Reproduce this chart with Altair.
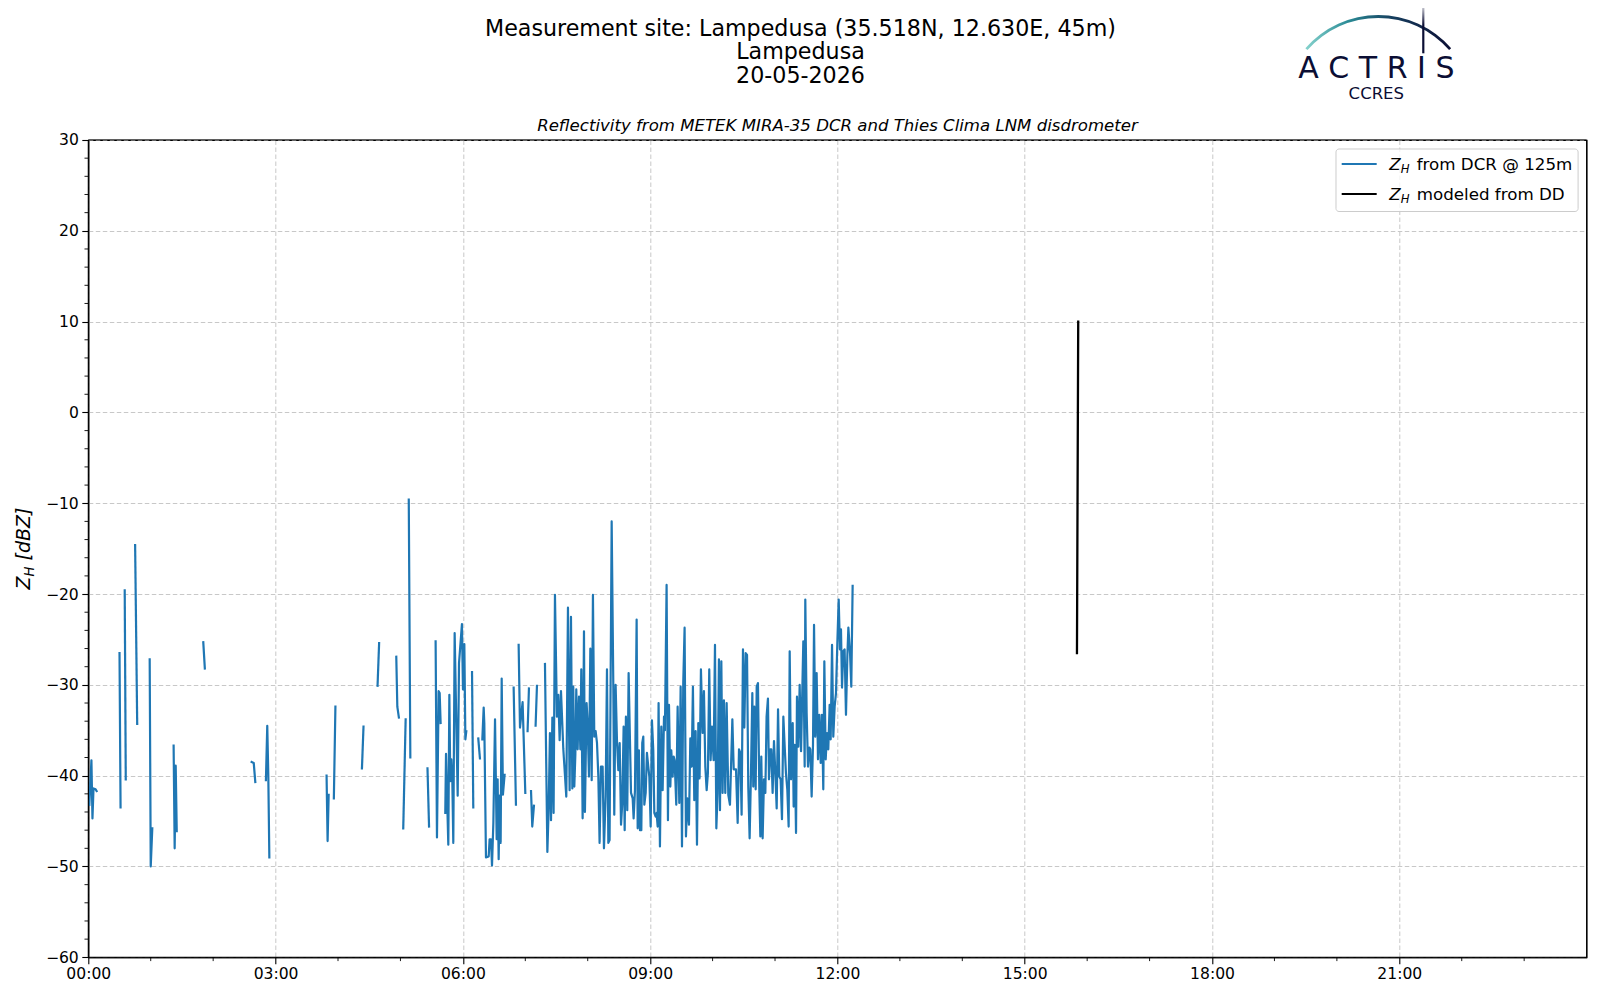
import altair as alt
import pandas as pd

# ---------------- data ----------------
# DCR reflectivity at 125 m: minutes after 00:00, None marks a data gap
dcr_minutes = [
    1, 3, 4, 5, 7, 8, None,
    30, 31, None,
    35, 36, None,
    45, 47, None,
    59, 60, 61.5, None,
    82, 83, 84, 85, None,
    110.5, 112, None,
    157, 159, 160.5, None,
    170.7, 172, 173, 174, None,
    229, 230, 231, None,
    236, 237.5, None,
    263, 264.5, None,
    278, 279.5, None,
    296, 297, 298.5, None,
    302.7, 305, None,
    308, 309.5, None,
    326, 327.5, None,
    333.8, 335.1, 336.7, 337.7, 338.6, None,
    343.1, 343.8, 346.0, 347.0, 347.9, 348.9, 349.9, 350.8, 352.1, 355.0, 356.3,
    359.1, 360.1, 361.4, 362.4, 363.3, None,
    368.8, 370.0, None,
    374.8, 376.4, None,
    378.7, 380.0, 380.6, 382.2, 384.8, 385.7, 387.0, 388.0, 389.3, 390.9, 392.5,
    393.4, 394.4, 395.3, 396.3, 397.3, 398.5, 400.1, None,
    408.8, 411.0, None,
    413.6, 414.9, 417.4, 420.0, None,
    422.2, 423.5, None,
    425.5, 426.7, 428.3, None,
    429.9, 431.2, None,
    438.9, 441.2, 442.4, 443.7, 444.7, 446.0, 447.2, 448.5, 450.4, 451.7, 453.0,
    454.3, 456.5, 459.4, 461.0, 462.6, 463.9, 465.2, 466.1, 467.1, 468.1, 469.0,
    470.3, 471.6, 472.9, 473.8, 475.1, 476.4, 477.3, 478.9, 479.9, 481.2, 482.5,
    483.8, 485.0, 486.3, 487.6, 488.9, 490.2, 491.4, 492.7, 494.3, 495.6, 497.2,
    498.5, 499.8, 501.0, 503.0, 504.6, 505.5, 506.8, 508.1, 509.4, 510.7, 512.0,
    513.2, 514.5, 515.5, 516.7, 518.0, 519.3, 521.6, 523.2, 524.1, 525.4, 527.0,
    528.0, 529.2, 530.2, 531.5, 532.4, 533.4, 534.4, 535.7, 536.9, 538.2, 539.2,
    540.5, 541.7, 543.0, 544.0, 545.3, 546.2, 547.2, 548.1, 549.4, 550.7, 552.0,
    553.3, 554.2, 555.8, 557.1, 558.1, 559.4, 560.3, 561.6, 562.6, 563.5, 565.1,
    566.4, 568.0, 569.3, 570.6, 571.8, 573.1, 574.4, 575.7, 577.3, 578.6, 579.9,
    581.1, 582.4, 583.7, 585.0, 586.3, 587.5, 588.8, 590.4, 591.7, 593.0, 594.3,
    595.5, 596.8, 598.1, 599.4, 601.0, 602.3, 603.6, 604.8, 606.1, 607.1, 608.4,
    609.6, 610.9, 612.2, 613.5, 615.1, 616.7, 619.0, 620.3, 622.5, 624.1, 625.4,
    626.7, 627.9, 629.2, 630.5, 631.8, 633.1, 634.3, 635.6, 636.9, 638.2, 639.1,
    640.1, 641.4, 642.4, 643.6, 644.9, 645.9, 646.8, 648.1, 649.4, 650.7, 651.9,
    653.2, 654.2, 655.5, 656.4, 657.7, 659.0, 660.3, 661.6, 662.9, 664.1, 665.4,
    666.7, 668.0, 669.3, 670.5, 671.8, 673.1, 674.1, 675.4, 677.0, 677.9, 678.9,
    680.2, 681.1, 682.4, 683.7, 685.0, 685.9, 687.2, 688.5, 689.1, 690.4, 691.7,
    693.0, 693.9, 695.2, 696.5, 697.5, 698.7, 700.0, 701.3, 702.6, 703.9, 705.1,
    706.4, 707.4, 708.7, 710.0, 711.2, 712.5, 713.5, 714.8, 716.0, 717.3, 718.6,
    719.9, 721.2, 722.4, 723.4, 724.4, 725.6, 726.9, 728.2, 729.5, 730.5, 732.1,
    733.3, 734.6,
]
dcr_dbz = [
    -43.2, -38.3, -44.7, -41.4, -41.5, -41.7, None,
    -26.5, -43.5, None,
    -19.6, -40.4, None,
    -14.6, -34.3, None,
    -27.2, -50.0, -45.8, None,
    -36.7, -48.0, -38.9, -46.1, None,
    -25.3, -28.2, None,
    -38.5, -38.6, -40.7, None,
    -40.5, -34.5, -40.0, -49.0, None,
    -40.0, -47.2, -42.1, None,
    -42.5, -32.4, None,
    -39.2, -34.6, None,
    -30.1, -25.4, None,
    -26.9, -32.4, -33.6, None,
    -45.8, -33.8, None,
    -9.6, -38.0, None,
    -39.2, -45.6, None,
    -25.2, -46.8, -30.7, -30.9, -34.2, None,
    -44.1, -37.6, -47.6, -31.1, -40.6, -38.2, -40.8, -47.4, -24.3, -42.2, -27.6,
    -23.3, -30.5, -25.5, -36.0, -35.1, None,
    -28.6, -43.5, None,
    -35.9, -38.1, None,
    -36.0, -32.5, -34.2, -49.0, -48.9, -47.0, -47.0, -49.9, -45.2, -33.8, -47.0,
    -40.4, -49.2, -42.2, -47.4, -29.3, -42.1, -39.9, None,
    -30.3, -43.2, None,
    -25.6, -34.7, -31.9, -41.9, None,
    -35.1, -30.4, None,
    -41.7, -45.6, -43.3, None,
    -34.5, -30.1, None,
    -27.7, -48.4, -43.8, -35.3, -44.9, -33.6, -44.1, -20.1, -33.5, -31.1, -36.1,
    -30.7, -37.0, -42.3, -21.5, -41.6, -22.5, -41.4, -30.2, -41.2, -37.7, -30.5,
    -37.1, -31.3, -37.1, -28.3, -44.7, -24.1, -44.0, -32.0, -34.2, -40.1, -26.0,
    -40.5, -20.1, -35.7, -35.1, -36.4, -40.1, -47.4, -39.0, -39.0, -48.0, -42.3,
    -28.3, -47.4, -47.1, -12.0, -30.2, -44.3, -30.0, -36.1, -39.4, -36.4, -45.4,
    -43.0, -34.6, -46.0, -33.5, -43.8, -28.7, -41.9, -42.5, -44.7, -41.6, -22.8,
    -45.8, -37.2, -46.0, -46.0, -36.4, -35.7, -43.2, -41.9, -37.5, -39.0, -40.1,
    -45.6, -33.9, -37.2, -44.1, -44.5, -44.1, -45.6, -32.0, -47.8, -34.6, -41.6,
    -33.5, -35.0, -19.0, -44.9, -32.2, -41.2, -37.2, -40.1, -37.9, -38.3, -43.2,
    -32.4, -43.0, -30.2, -47.8, -29.8, -23.7, -46.7, -42.5, -45.4, -35.9, -39.0,
    -30.2, -42.7, -35.1, -47.6, -34.2, -40.3, -28.3, -35.3, -30.7, -39.0, -41.6,
    -39.7, -28.3, -38.3, -34.6, -38.3, -25.6, -45.8, -41.9, -27.2, -43.8, -27.4,
    -41.9, -31.7, -41.9, -32.0, -42.1, -43.2, -33.8, -39.3, -39.3, -45.2, -37.1,
    -37.5, -44.3, -26.1, -34.7, -26.5, -26.7, -41.2, -46.9, -39.7, -30.9, -41.2,
    -32.4, -41.5, -30.2, -29.8, -41.5, -46.7, -37.9, -46.9, -40.4, -41.9, -33.5,
    -31.5, -40.4, -37.1, -37.1, -41.9, -36.2, -39.7, -43.6, -32.7, -40.1, -40.4,
    -44.8, -33.5, -36.8, -39.7, -41.5, -45.6, -26.3, -40.4, -34.2, -43.4, -36.6,
    -46.3, -31.3, -36.8, -30.0, -37.3, -32.4, -25.2, -39.0, -20.6, -33.1, -39.0,
    -36.9, -37.1, -42.3, -36.6, -23.4, -35.7, -28.7, -38.2, -33.3, -38.6, -33.3,
    -41.5, -27.4, -38.2, -35.3, -37.1, -32.2, -36.0, -25.6, -35.7, -32.4, -30.9,
    -25.4, -20.6, -26.1, -23.9, -30.3, -26.3, -26.1, -33.3, -26.9, -23.7, -26.5,
    -30.2, -19.1,
]

# Z_H modeled from the disdrometer
dd_minutes = [950.2, 951.4]
dd_dbz = [-26.5, 10.0]

x_major_hours = [0, 3, 6, 9, 12, 15, 18, 21]
x_minor_hours = [1, 2, 4, 5, 7, 8, 10, 11, 13, 14, 16, 17, 19, 20, 22, 23]
y_major = [-60, -50, -40, -30, -20, -10, 0, 10, 20, 30]
y_minor = [-58, -56, -54, -52, -48, -46, -44, -42, -38, -36, -34, -32, -28, -26,
           -24, -22, -18, -16, -14, -12, -8, -6, -4, -2, 2, 4, 6, 8, 12, 14, 16,
           18, 22, 24, 26, 28]

title_lines = ["Measurement site: Lampedusa (35.518N, 12.630E, 45m)", "Lampedusa", "20-05-2026"]
subtitle = "Reflectivity from METEK MIRA-35 DCR and Thies Clima LNM disdrometer"
legend_rest = ["from DCR @ 125m", "modeled from DD"]
legend_colors = ["#1f77b4", "#000000"]

# ---------------- build tables ----------------
rows = []
seg = 0
for m, v in zip(dcr_minutes, dcr_dbz):
    if m is None:
        seg += 1
        continue
    rows.append({"h": m / 60.0, "v": v, "seg": seg})
dcr_df = pd.DataFrame(rows)
dd_df = pd.DataFrame({"h": [m / 60.0 for m in dd_minutes], "v": dd_dbz})
one = pd.DataFrame({"a": [0]})

W, H = 1498.3, 817.3
FONT = "DejaVu Sans"
NAVY = "#0b0e34"

xscale = alt.Scale(domain=[0, 24], nice=False, zero=False)
yscale = alt.Scale(domain=[-60, 30], nice=False, zero=False)

xaxis = alt.Axis(values=x_major_hours, title=None, grid=True, labelFlush=False,
                 labelExpr="(datum.value < 10 ? '0' : '') + datum.value + ':00'")
yaxis = alt.Axis(values=y_major, title=None, grid=True, labelFlush=False)

blue = alt.Chart(dcr_df).mark_line(
    color="#1f77b4", strokeWidth=2.2, strokeCap="square", strokeJoin="round"
).encode(
    x=alt.X("h:Q", scale=xscale, axis=xaxis),
    y=alt.Y("v:Q", scale=yscale, axis=yaxis),
    detail="seg:N",
)

black = alt.Chart(dd_df).mark_line(
    color="black", strokeWidth=2.3, strokeCap="square"
).encode(
    x=alt.X("h:Q", scale=xscale, axis=xaxis),
    y=alt.Y("v:Q", scale=yscale, axis=yaxis),
)

xminor = alt.Chart(pd.DataFrame({"h": x_minor_hours})).mark_rule(
    color="black", strokeWidth=0.9
).encode(
    x=alt.X("h:Q", scale=xscale, axis=xaxis),
    y=alt.value(H), y2=alt.value(H + 3.8),
)
yminor = alt.Chart(pd.DataFrame({"v": y_minor})).mark_rule(
    color="black", strokeWidth=0.9
).encode(
    y=alt.Y("v:Q", scale=yscale, axis=yaxis),
    x=alt.value(0), x2=alt.value(-3.8),
)

# solid spines on top of the grid lines
spine_top = alt.Chart(one).mark_rule(color="black", strokeWidth=1.1).encode(
    x=alt.value(0), x2=alt.value(W), y=alt.value(0))
spine_right = alt.Chart(one).mark_rule(color="black", strokeWidth=1.1).encode(
    x=alt.value(W), y=alt.value(0), y2=alt.value(H))
spine_left = alt.Chart(one).mark_rule(color="black", strokeWidth=1.1).encode(
    x=alt.value(0), y=alt.value(0), y2=alt.value(H))
spine_bottom = alt.Chart(one).mark_rule(color="black", strokeWidth=1.1).encode(
    x=alt.value(0), x2=alt.value(W), y=alt.value(H))


def txt(s, x, y, size, align="left", baseline="alphabetic", style="normal",
        color="black", angle=None, font=FONT, weight="normal"):
    kw = dict(text=s, fontSize=size, align=align, baseline=baseline,
              fontStyle=style, color=color, font=font, fontWeight=weight)
    if angle is not None:
        kw["angle"] = angle
    return alt.Chart(one).mark_text(**kw).encode(x=alt.value(x), y=alt.value(y))


layers = [blue, black, xminor, yminor, spine_top, spine_right, spine_left, spine_bottom]

# suptitle (three centered lines) and axes title
for i, line in enumerate(title_lines):
    layers.append(txt(line, 712.2, -104.0 + 23.4 * i, 22.2, align="center"))
layers.append(txt(subtitle, W / 2, -9, 16.6, align="center", style="italic"))

# y-axis label  Z_H [dBZ]  (rotated)
layers.append(txt("Z", -58.5, 449.5, 19, style="italic", angle=270))
layers.append(txt("H", -54.0, 436.5, 13.3, style="italic", angle=270))
layers.append(txt("[dBZ]", -58.5, 420.5, 19, style="italic", angle=270))

# legend
layers.append(alt.Chart(one).mark_rect(
    fill="white", fillOpacity=0.8, stroke="#cccccc", strokeWidth=1, cornerRadius=3
).encode(x=alt.value(1247.7), x2=alt.value(1489.8), y=alt.value(9), y2=alt.value(71.5)))
for i, (rest, col) in enumerate(zip(legend_rest, legend_colors)):
    yy = 24 + 30 * i
    layers.append(alt.Chart(one).mark_rule(color=col, strokeWidth=2.1).encode(
        x=alt.value(1253.4), x2=alt.value(1288.4), y=alt.value(yy)))
    layers.append(txt("Z", 1301.0, yy + 6, 16.7, style="italic"))
    layers.append(txt("H", 1312.4, yy + 9.5, 11.7, style="italic"))
    layers.append(txt(rest, 1328.4, yy + 6, 16.7))

# ACTRIS / CCRES logo
arc_grad = alt.Gradient(
    gradient="linear", x1=0, x2=1, y1=0, y2=0,
    stops=[alt.GradientStop(color="#86d3cd", offset=0),
           alt.GradientStop(color="#2a8a95", offset=0.3),
           alt.GradientStop(color="#163e5e", offset=0.6),
           alt.GradientStop(color=NAVY, offset=1)],
)
layers.append(alt.Chart(one).mark_arc(
    theta=5.43, theta2=7.136, radius=96.8, radius2=94.0, color=arc_grad
).encode(x=alt.value(1290.0), y=alt.value(-28.1)))
bar_grad = alt.Gradient(
    gradient="linear", x1=0, x2=0, y1=0, y2=1,
    stops=[alt.GradientStop(color="#ffffff", offset=0),
           alt.GradientStop(color=NAVY, offset=0.45),
           alt.GradientStop(color=NAVY, offset=1)],
)
layers.append(alt.Chart(one).mark_rect(color=bar_grad).encode(
    x=alt.value(1333.9), x2=alt.value(1336.1), y=alt.value(-138.3), y2=alt.value(-86.7)))
layers.append(txt("A C T R I S", 1210.0, -61.7, 30, color=NAVY))
layers.append(txt("CCRES", 1288.0, -41.0, 16.5, align="center", color=NAVY))

chart = alt.layer(*layers).properties(
    width=W, height=H,
    padding={"left": 80.3, "top": 132, "right": 5, "bottom": 30},
    autosize=alt.AutoSizeParams(type="none"),
).configure(font=FONT).configure_view(
    stroke="black", strokeWidth=1.1
).configure_axis(
    domainColor="black", domainWidth=1.1,
    tickColor="black", tickWidth=1.1, tickSize=6.5,
    labelFont=FONT, labelFontSize=15.6, labelColor="black",
    gridColor="#c8c8c8", gridDash=[4.5, 2.5], gridWidth=1,
).configure_axisX(labelPadding=3).configure_axisY(labelPadding=3.5)

chart.save("out.html", embed_options={"renderer": "svg", "actions": False})
